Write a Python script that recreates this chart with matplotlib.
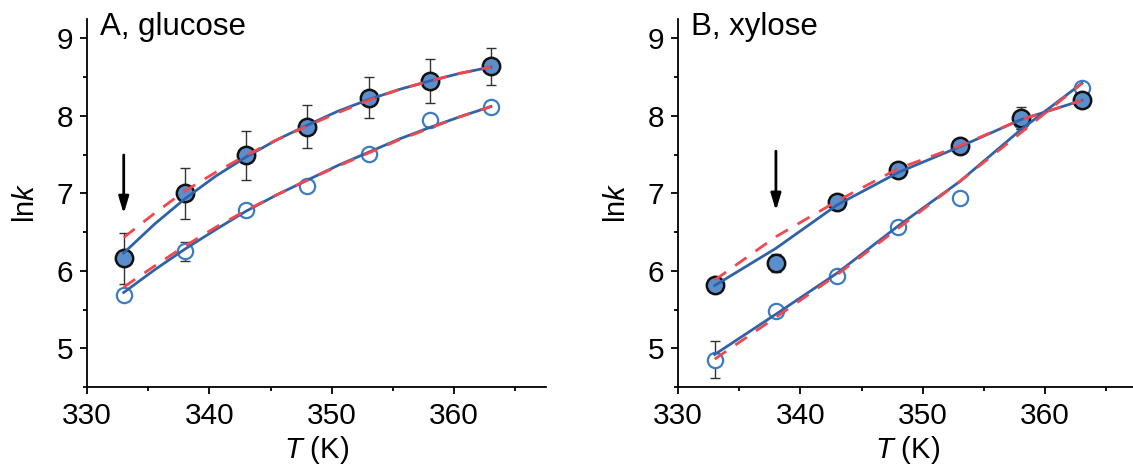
import matplotlib
matplotlib.use("Agg")
import matplotlib.pyplot as plt
from matplotlib.ticker import MultipleLocator

plt.rcParams['font.family'] = ['Liberation Sans', 'DejaVu Sans']
plt.rcParams['mathtext.fontset'] = 'custom'
plt.rcParams['mathtext.it'] = 'Liberation Sans:italic'
plt.rcParams['mathtext.rm'] = 'Liberation Sans'

T = [333, 338, 343, 348, 353, 358, 363]
T_fine = [333, 335.5, 338, 340.5, 343, 345.5, 348, 350.5, 353, 355.5, 358, 360.5, 363]

# A, glucose
glu_filled = [6.16, 7.00, 7.49, 7.86, 8.235, 8.45, 8.64]
glu_filled_err = [0.33, 0.33, 0.32, 0.28, 0.26, 0.29, 0.24]
glu_open = [5.69, 6.25, 6.78, 7.10, 7.51, 7.94, 8.12]
glu_open_err = [0.05, 0.12, 0.04, 0.0, 0.0, 0.0, 0.0]
glu_fit_blue_filled = [6.23, 6.60, 6.93, 7.22, 7.47, 7.69, 7.88, 8.06, 8.21, 8.34, 8.45, 8.55, 8.63]
glu_fit_red_filled = [6.43, 6.74, 7.03, 7.27, 7.49, 7.69, 7.87, 8.04, 8.20, 8.34, 8.45, 8.55, 8.63]
glu_fit_blue_open = [5.72, 6.01, 6.28, 6.53, 6.77, 6.98, 7.17, 7.36, 7.53, 7.70, 7.85, 7.99, 8.12]
glu_fit_red_open = [5.79, 6.06, 6.32, 6.56, 6.78, 6.98, 7.17, 7.35, 7.52, 7.69, 7.84, 7.99, 8.12]

# B, xylose
xyl_filled = [5.82, 6.10, 6.89, 7.30, 7.61, 7.97, 8.20]
xyl_filled_err = [0.03, 0.12, 0.03, 0.03, 0.03, 0.14, 0.05]
xyl_open = [4.85, 5.48, 5.93, 6.57, 6.94, 7.93, 8.36]
xyl_open_err = [0.24, 0.04, 0.03, 0.03, 0.05, 0.10, 0.08]
xyl_fit_blue_filled = [5.81, 6.29, 6.85, 7.27, 7.60, 7.95, 8.20]
xyl_fit_red_filled = [5.88, 6.44, 6.90, 7.32, 7.61, 7.95, 8.20]
xyl_fit_blue_open = [4.92, 5.44, 5.97, 6.58, 7.15, 7.82, 8.42]
xyl_fit_red_open = [4.86, 5.40, 5.95, 6.55, 7.15, 7.78, 8.42]

panels = [
    dict(title="A, glucose", filled=glu_filled, ferr=glu_filled_err, opn=glu_open, oerr=glu_open_err,
         fitT=T_fine, bf=glu_fit_blue_filled, rf=glu_fit_red_filled, bo=glu_fit_blue_open, ro=glu_fit_red_open,
         arrow_x=333, arrow=(7.53, 6.70)),
    dict(title="B, xylose", filled=xyl_filled, ferr=xyl_filled_err, opn=xyl_open, oerr=xyl_open_err,
         fitT=T, bf=xyl_fit_blue_filled, rf=xyl_fit_red_filled, bo=xyl_fit_blue_open, ro=xyl_fit_red_open,
         arrow_x=338, arrow=(7.58, 6.74)),
]

W, H = 1133, 471
fig = plt.figure(figsize=(W / 100, H / 100), dpi=100)
axes_px = [(87, 19, 546, 387), (678, 19, 1137, 387)]

fill_col = "#5a8fcb"
open_col = "#3d7cc4"
blue_line = "#2f63a8"
red_line = "#f2474e"
err_col = "#333333"

for (x0, y0, x1, y1), p in zip(axes_px, panels):
    ax = fig.add_axes([x0 / W, 1 - y1 / H, (x1 - x0) / W, (y1 - y0) / H])
    ax.errorbar(T, p["opn"], yerr=p["oerr"], fmt='none', ecolor=err_col, elinewidth=1.0,
                capsize=3.5, capthick=1.0, zorder=2)
    ax.plot(T, p["opn"], 'o', ms=11, mfc='white', mec=open_col, mew=1.6, zorder=3)
    ax.errorbar(T, p["filled"], yerr=p["ferr"], fmt='none', ecolor=err_col, elinewidth=1.0,
                capsize=3.5, capthick=1.0, zorder=4)
    ax.plot(T, p["filled"], 'o', ms=12.5, mfc=fill_col, mec='#111111', mew=1.8, zorder=5)
    ax.plot(p["fitT"], p["bf"], '-', color=blue_line, lw=2.0, zorder=6)
    ax.plot(p["fitT"], p["bo"], '-', color=blue_line, lw=2.0, zorder=6)
    ax.plot(p["fitT"], p["rf"], '--', color=red_line, lw=2.0, dashes=(5, 4), zorder=7)
    ax.plot(p["fitT"], p["ro"], '--', color=red_line, lw=2.0, dashes=(5, 4), zorder=7)

    ax.annotate("", xy=(p["arrow_x"], p["arrow"][1]), xytext=(p["arrow_x"], p["arrow"][0]),
                arrowprops=dict(arrowstyle="-|>,head_length=1.0,head_width=0.3", color='black', lw=2.0),
                zorder=8)

    ax.set_xlim(330, 367.5)
    ax.set_ylim(4.5, 9.25)
    ax.xaxis.set_major_locator(MultipleLocator(10))
    ax.xaxis.set_minor_locator(MultipleLocator(5))
    ax.yaxis.set_major_locator(MultipleLocator(1))
    ax.yaxis.set_minor_locator(MultipleLocator(0.5))
    for s in ("top", "right"):
        ax.spines[s].set_visible(False)
    for s in ("left", "bottom"):
        ax.spines[s].set_linewidth(1.3)
    ax.tick_params(which='major', direction='out', length=5, width=1.3, labelsize=21.5)
    ax.tick_params(axis='x', which='major', pad=6)
    ax.tick_params(axis='y', which='major', pad=5)
    ax.tick_params(which='minor', direction='out', length=3, width=1.3)
    ax.set_xlabel(r"$\mathit{T}$ (K)", fontsize=21, labelpad=3)
    ax.set_ylabel(r"ln$\mathit{k}$", fontsize=21, labelpad=12)
    ax.text(0.028, 1.02, p["title"], transform=ax.transAxes, fontsize=22.5, va='top', ha='left')

fig.savefig("out.png", dpi=100, facecolor='white')
